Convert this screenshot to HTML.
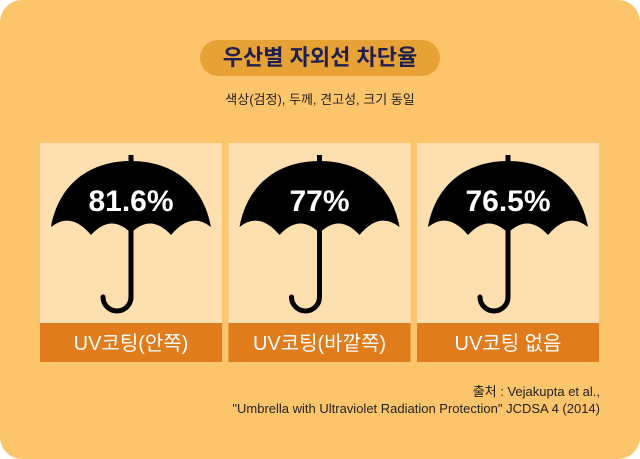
<!DOCTYPE html>
<html><head><meta charset="utf-8">
<style>
html,body{margin:0;padding:0;background:#fff;}
body{width:640px;height:459px;overflow:hidden;font-family:"Liberation Sans","Noto Sans CJK KR",sans-serif;}
#card{position:absolute;left:0;top:0;width:640px;height:459px;border-radius:22px;background:#fdc56b;}
#pill{position:absolute;left:200px;top:40px;width:240px;height:36px;border-radius:18px;background:#e6a235;color:#21204d;font-weight:bold;font-size:22px;text-align:center;line-height:36px;}
#sub{position:absolute;left:0;width:640px;top:89px;text-align:center;font-size:13px;color:#222;}
.src{position:absolute;right:40px;font-size:13px;color:#222;}
</style></head><body>
<div id="card"></div>
<div id="pill">우산별 자외선 차단율</div>
<div id="sub">색상(검정), 두께, 견고성, 크기 동일</div>
<svg id="chart" width="640" height="459" style="position:absolute;left:0;top:0"></svg>
<div class="src" style="top:381px">출처 : Vejakupta et al.,</div>
<div class="src" style="top:401px">"Umbrella with Ultraviolet Radiation Protection" JCDSA 4 (2014)</div>
<script>
const categories=["UV코팅(안쪽)","UV코팅(바깥쪽)","UV코팅 없음"];
const values=[81.6,77,76.5];
const valueLabels=["81.6%","77%","76.5%"];
const NS="http://www.w3.org/2000/svg";
const svg=document.getElementById('chart');
function mk(t,a,p){const e=document.createElementNS(NS,t);for(const k in a)e.setAttribute(k,a[k]);(p||svg).appendChild(e);return e;}
const panelX=i=>40+i*188.5, panelW=182;
categories.forEach((c,i)=>{
  const x=panelX(i), cx=x+panelW/2;
  const g=mk('g',{});
  
  
  const bg=mk('rect',{x:x,y:143,width:panelW,height:180,fill:'#fedfb0'},g);
  
  
  const u=mk('g',{transform:`translate(${cx},155)`},g);
  
  
  mk('rect',{x:-2.5,y:0,width:5,height:8,fill:'#000'},u);
  mk('path',{d:'M -80,72 C -72,28 -40,6 0,6 C 40,6 72,28 80,72 Q 60,56 40,80 Q 20,58 0,78 Q -20,58 -40,80 Q -60,56 -80,72 Z',fill:'#000'},u);
  mk('path',{d:'M 0,70 L 0,142 A 14,14 0 0 1 -28,142',fill:'none',stroke:'#000','stroke-width':5,'stroke-linecap':'round'},u);
  const t=mk('text',{x:cx,y:211,'text-anchor':'middle','font-size':30,'font-weight':'bold',fill:'#fff','font-family':'Liberation Sans, Noto Sans CJK KR, sans-serif'},g);
  t.textContent=valueLabels[i];
  
  
  const lb=mk('rect',{x:x,y:323,width:panelW,height:39,fill:'#e07c1c'},g);
  
  
  const lt=mk('text',{x:cx,y:350,'text-anchor':'middle','font-size':20,fill:'#fff','font-family':'Liberation Sans, Noto Sans CJK KR, sans-serif'},g);
  lt.textContent=c;
  
  
});
</script>
</body></html>
